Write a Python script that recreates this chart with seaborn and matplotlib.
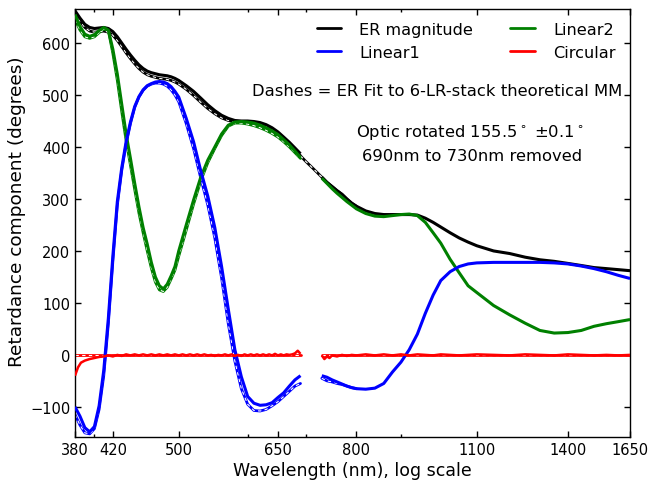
import numpy as np
import pandas as pd
import seaborn as sns
import matplotlib
matplotlib.use("Agg")
import matplotlib.pyplot as plt
import matplotlib.ticker as mticker
from matplotlib.lines import Line2D

# ---------------- data ----------------
# measured, segment 1 (380-690 nm)
wl_a = [380, 385, 390, 395, 400, 405, 410, 415, 420, 425, 430, 435, 440, 445, 450,
        455, 460, 465, 470, 475, 480, 485, 490, 495, 500, 510, 520, 530, 540, 550,
        560, 570, 580, 590, 600, 610, 620, 630, 640, 650, 660, 670, 680, 690]
er_a = [662, 648, 636, 630, 628, 629, 630, 628, 622, 612, 600, 588, 577, 567, 558,
        551, 546, 543, 541, 539, 538, 537, 535, 532, 528, 518, 507, 494, 481, 470,
        461, 455, 451, 450, 450, 449, 447, 443, 437, 429, 419, 409, 398, 387]
lin1_a = [-100, -118, -140, -148, -138, -98, -30, 70, 190, 295, 360, 410, 448, 478, 497,
          510, 518, 522, 525, 526, 525, 522, 516, 507, 496, 455, 410, 354, 305, 245,
          170, 88, 10, -42, -80, -93, -97, -96, -92, -82, -73, -60, -48, -40]
lin2_a = [655, 632, 617, 613, 616, 624, 630, 625, 588, 540, 482, 425, 378, 330, 285,
          245, 213, 178, 150, 133, 127, 136, 152, 170, 200, 250, 298, 342, 375, 400,
          425, 442, 448, 449, 448, 446, 442, 437, 431, 424, 414, 404, 392, 380]

# measured, segment 2 (730-1650 nm)
wl_b = [730, 740, 750, 760, 770, 780, 790, 800, 820, 840, 860, 880, 900, 920, 940,
        960, 980, 1000, 1025, 1050, 1075, 1100, 1150, 1200, 1250, 1300, 1350, 1400,
        1450, 1500, 1550, 1600, 1650]
er_b = [342, 332, 324, 316, 309, 300, 292, 286, 277, 272, 270, 270, 270, 270, 269,
        263, 255, 246, 235, 225, 217, 210, 200, 195, 188, 183, 180, 176, 172, 168,
        166, 164, 162]
lin1_b = [-40, -43, -48, -52, -56, -60, -63, -65, -66, -64, -55, -33, -14, 10, 40,
          80, 115, 143, 160, 170, 175, 177, 178, 178, 178, 178, 177, 175, 171, 166,
          160, 153, 147]
lin2_b = [340, 330, 320, 311, 303, 295, 288, 281, 272, 267, 266, 268, 270, 271, 268,
          255, 235, 215, 184, 158, 133, 120, 95, 77, 61, 47, 42, 43, 47, 55, 60, 64, 68]

# circular component (measured)
wl_c1 = [380, 383, 386, 390, 395, 400, 405, 410, 415, 420, 425, 430, 435, 440, 445,
         450, 455, 460, 465, 470, 475, 480, 485, 490, 495, 500, 505, 510, 515, 520,
         525, 530, 535, 540, 545, 550, 555, 560, 565, 570, 575, 580, 585, 590, 595,
         600, 605, 610, 615, 620, 625, 630, 635, 640, 645, 650, 655, 660, 665, 670,
         675, 680, 685, 690]
circ_c1 = [-40, -24, -15, -11, -8, -6, -4, -3, -1, -3, 0, -2, 1, -1, 1,
           -1, 1, -1, 1, -1, 1, -1, 1, -1, 1, -1, 1, -1, 1, -1,
           1, -1, 1, -1, 0, -2, 0, -1, 1, -1, 1, -2, 0, -2, 1,
           -1, 1, -1, 1, -1, 1, -1, 1, -1, 2, -1, 1, -1, 1, 0,
           1, 3, 8, 2]
wl_c2 = [730, 735, 740, 745, 750, 760, 770, 780, 790, 800, 820, 840, 860, 880, 900,
         920, 940, 960, 980, 1000, 1050, 1100, 1150, 1200, 1250, 1300, 1350, 1400,
         1450, 1500, 1550, 1600, 1650]
circ_c2 = [-1, -8, -3, -6, -1, -3, 0, -2, 0, -1, 1, -1, 1, -1, 1,
           -1, 1, 0, -1, 1, -1, 1, 0, -1, 1, 0, -1, 1, 0, -1, 0, -1, 0]

# ER fit to 6-LR-stack theoretical MM (dashes)
wl_fit = [380, 385, 390, 395, 400, 405, 410, 415, 420, 425, 430, 435, 440, 445, 450,
          455, 460, 465, 470, 475, 480, 485, 490, 495, 500, 510, 520, 530, 540, 550,
          560, 570, 580, 590, 600, 610, 620, 630, 640, 650, 660, 670, 680, 690]
er_fit = [658, 642, 630, 623, 621, 622, 623, 621, 615, 605, 593, 581, 570, 560, 551,
          544, 539, 536, 534, 532, 531, 530, 528, 525, 521, 511, 499, 486, 474, 464,
          456, 451, 448, 447, 447, 446, 444, 440, 434, 426, 416, 405, 394, 383]
lin1_fit = [-115, -135, -150, -152, -142, -105, -40, 60, 180, 288, 355, 406, 445, 476, 496,
            509, 517, 521, 523, 523, 521, 517, 510, 500, 487, 445, 397, 340, 288, 225,
            148, 60, -12, -65, -95, -107, -108, -105, -98, -90, -80, -70, -60, -55]
lin2_fit = [645, 625, 612, 609, 612, 620, 627, 624, 580, 528, 468, 412, 365, 318, 273,
            235, 200, 167, 140, 125, 122, 130, 146, 163, 190, 240, 290, 335, 370, 397,
            422, 440, 446, 446, 444, 441, 437, 432, 426, 419, 410, 400, 389, 378]
# ER-magnitude fit across the removed band, and fit just after it
wl_fit_gap = [690, 700, 710, 720, 730, 740, 750, 760, 770, 780, 790, 800]
er_fit_gap = [383, 372, 362, 352, 342, 332, 324, 316, 309, 300, 292, 286]
wl_fit_b = [730, 740, 750, 760, 770, 780, 790, 800]
lin1_fit_b = [-45, -50, -52, -55, -57, -60, -63, -65]
wl_circ_fit = [380, 690, 730, 1650]
circ_fit = [0, 0, 0, 0]

series_names = ["ER magnitude", "Linear1", "Linear2", "Circular"]
series_colors = ["black", "blue", "green", "red"]

xticks = [380, 420, 500, 650, 800, 1100, 1400, 1650]
yticks = [-100, 0, 100, 200, 300, 400, 500, 600]

# ---------------- style ----------------
sns.set_style("ticks", {"xtick.direction": "in", "ytick.direction": "in",
                        "axes.edgecolor": "black", "axes.linewidth": 1.0,
                        "text.color": "black", "axes.labelcolor": "black",
                        "xtick.color": "black", "ytick.color": "black"})
plt.rcParams["font.family"] = ["DejaVu Sans"]
plt.rcParams["text.color"] = "black"
plt.rcParams["axes.labelcolor"] = "black"
plt.rcParams["xtick.color"] = "black"
plt.rcParams["ytick.color"] = "black"
plt.rcParams["xtick.top"] = True
plt.rcParams["ytick.right"] = True

fig = plt.figure(figsize=(6.49, 4.85), dpi=100)
ax = fig.add_axes([0.1156, 0.0969, 0.8552, 0.883])


def solid(x, y, color, lw=2.2, z=3):
    sns.lineplot(x=x, y=y, color=color, lw=lw, ax=ax, estimator=None,
                 sort=False, zorder=z, solid_capstyle="butt")


def dashed(x, y, color):
    sns.lineplot(x=x, y=y, color=color, lw=2.0, ax=ax, estimator=None,
                 sort=False, zorder=2)
    sns.lineplot(x=x, y=y, color="white", lw=0.8, ax=ax, estimator=None,
                 sort=False, zorder=2.1, dashes=False, linestyle=(0, (3, 3)))


# fits (drawn underneath)
dashed(wl_fit, er_fit, "black")
dashed(wl_fit_gap, er_fit_gap, "black")
dashed(wl_fit, lin2_fit, "green")
dashed(wl_fit, lin1_fit, "blue")
dashed(wl_fit_b, lin1_fit_b, "blue")
dashed(wl_circ_fit[:2], circ_fit[:2], "red")
dashed(wl_circ_fit[2:], circ_fit[2:], "red")

# measured data
solid(wl_a, er_a, "black")
solid(wl_b, er_b, "black")
solid(wl_a, lin2_a, "green")
solid(wl_b, lin2_b, "green")
solid(wl_a, lin1_a, "blue")
solid(wl_b, lin1_b, "blue")
solid(wl_c1, circ_c1, "red", lw=1.8)
solid(wl_c2, circ_c2, "red", lw=1.8)

ax.set_xscale("log")
ax.set_xlim(380, 1650)
ax.set_ylim(-158, 666)
ax.xaxis.set_major_locator(mticker.FixedLocator(xticks))
ax.xaxis.set_major_formatter(mticker.FixedFormatter([str(t) for t in xticks]))
ax.xaxis.set_minor_locator(mticker.FixedLocator([400, 600, 700, 900]))
ax.xaxis.set_minor_formatter(mticker.NullFormatter())
ax.set_yticks(yticks)
ax.tick_params(which="major", length=4, width=1, labelsize=10.5, color="black",
               labelcolor="black", top=True, right=True, direction="in", pad=3.5)
ax.tick_params(which="minor", length=2, width=1, color="black",
               top=True, right=True, direction="in")

ax.set_xlabel("Wavelength (nm), log scale", fontsize=12.5, color="black", labelpad=3)
ax.set_ylabel("Retardance component (degrees)", fontsize=13.3, color="black")
ax.yaxis.set_label_coords(-0.088, 0.528)
for s in ax.spines.values():
    s.set_color("black")
    s.set_linewidth(1.0)

handles = [Line2D([], [], color=c, lw=2) for c in series_colors]
leg = ax.legend(handles, series_names,
                ncol=2, frameon=False, loc="upper right", bbox_to_anchor=(1.0, 1.003),
                fontsize=11.6, handlelength=1.5, handletextpad=1.15, columnspacing=2.3,
                labelspacing=0.5)
for t in leg.get_texts():
    t.set_color("black")

ax.text(0.652, 0.808, "Dashes = ER Fit to 6-LR-stack theoretical MM",
        transform=ax.transAxes, ha="center", va="center", fontsize=11.8)
ax.text(0.711, 0.713, r"Optic rotated 155.5$^\circ$ $\pm$0.1$^\circ$",
        transform=ax.transAxes, ha="center", va="center", fontsize=11.8)
ax.text(0.715, 0.657, "690nm to 730nm removed",
        transform=ax.transAxes, ha="center", va="center", fontsize=11.8)

fig.savefig("out.png", dpi=100)
